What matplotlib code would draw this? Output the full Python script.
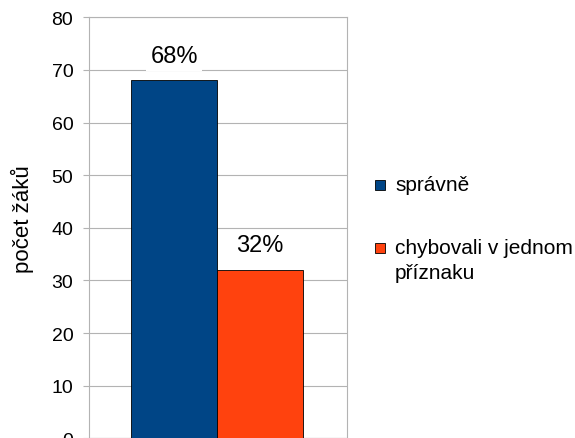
import matplotlib.pyplot as plt
from matplotlib.patches import Rectangle

categories = ["správně", "chybovali v jednom\npříznaku"]
values = [68, 32]
pct_labels = ["68%", "32%"]
colors = ["#004586", "#ff420e"]
yticks = [0, 10, 20, 30, 40, 50, 60, 70, 80]

plt.rcParams['font.family'] = ['Liberation Sans', 'DejaVu Sans']

W, H = 575, 439
fig = plt.figure(figsize=(W / 100, H / 100), dpi=100)
ax = fig.add_axes([0.1548, -0.0007, 0.4487, 0.959])

x = [0, 1]
for i in range(len(values)):
    ax.bar(x[i], values[i], width=1.0, color=colors[i], edgecolor="black",
           linewidth=0.6, zorder=3)
    ax.text(x[i], values[i] + 3.6, pct_labels[i], ha="center", va="baseline",
            fontsize=17, zorder=4,
            bbox=dict(facecolor="white", edgecolor="none", pad=3))

ax.set_xlim(-0.99, 2.01)
ax.set_ylim(0, 80)
ax.set_yticks(yticks)
ax.set_xticks([])
ax.tick_params(axis="y", length=4.3, width=0.8, color="#b3b3b3", labelsize=14, pad=7)
ax.grid(axis="y", color="#b3b3b3", linewidth=0.8, zorder=0)
for s in ax.spines.values():
    s.set_color("#b3b3b3")
    s.set_linewidth(0.8)
ax.set_ylabel("počet žáků", fontsize=16)
ax.yaxis.set_label_coords(34 / W, 0.5, transform=fig.transFigure)

# legend drawn by hand so the marker sits at the first text line
for i, (cat, col) in enumerate(zip(categories, colors)):
    base = 191 + i * 63
    fig.add_artist(Rectangle((375 / W, 1 - base / H), 10 / W, 10 / H,
                             transform=fig.transFigure, facecolor=col,
                             edgecolor="black", linewidth=0.6))
    for j, line in enumerate(cat.split("\n")):
        fig.text(395 / W, 1 - (base + j * 25) / H, line, ha="left",
                 va="baseline", fontsize=15)

fig.savefig("out.png", dpi=100)
